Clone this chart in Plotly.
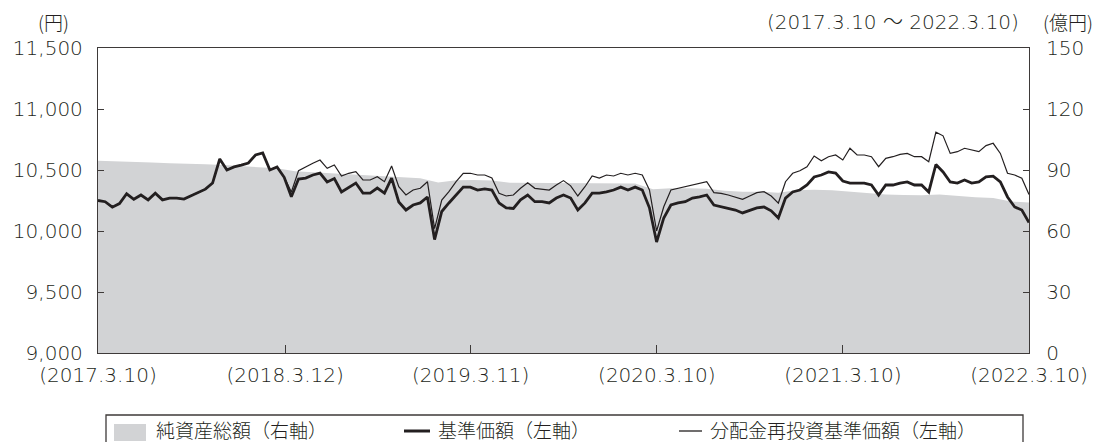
import pandas as pd
import plotly.graph_objects as go

# --- data -------------------------------------------------------------
start, end = "2017-03-10", "2022-03-10"

# 基準価額 (yen), sampled roughly every two weeks
nav = [
    10250, 10240, 10195, 10225, 10305, 10260, 10295, 10255, 10310, 10255,
    10270, 10270, 10262, 10290, 10320, 10343, 10393, 10590, 10500, 10525,
    10540, 10557, 10623, 10640, 10500, 10525, 10440, 10280, 10426, 10434,
    10459, 10475, 10402, 10430, 10320, 10360, 10393, 10311, 10311, 10352,
    10311, 10434, 10238, 10172, 10213, 10230, 10279, 9930, 10160, 10230,
    10295, 10360, 10360, 10336, 10345, 10336, 10230, 10190, 10185, 10255,
    10295, 10240, 10240, 10230, 10270, 10295, 10270, 10172, 10230, 10311,
    10311, 10320, 10336, 10360, 10336, 10360, 10336, 10190, 9910, 10107,
    10213, 10230, 10240, 10270, 10280, 10295, 10213, 10200, 10190, 10172,
    10148, 10172, 10190, 10197, 10165, 10107, 10270, 10320, 10336, 10377,
    10443, 10459, 10484, 10475, 10410, 10393, 10393, 10393, 10377, 10295,
    10377, 10377, 10393, 10402, 10377, 10377, 10320, 10545, 10484, 10402,
    10393, 10418, 10393, 10402, 10443, 10450, 10402, 10279, 10197, 10172, 10070,
]

# 分配金再投資基準価額 (yen): identical to nav until the first distribution
reinvest_after = [
    10320, 10494, 10527,
    10555, 10582, 10514, 10541, 10451, 10473, 10486, 10418, 10418, 10445,
    10404, 10533, 10363, 10295, 10336, 10350, 10404, 10020, 10254, 10322,
    10404, 10473, 10473, 10459, 10459, 10434, 10309, 10287, 10295, 10350,
    10396, 10350, 10343, 10336, 10377, 10413, 10370, 10287, 10363, 10451,
    10434, 10459, 10451, 10473, 10459, 10473, 10459, 10336, 10000, 10199,
    10336, 10350, 10363, 10377, 10396, 10404, 10314, 10309, 10295, 10276,
    10260, 10287, 10314, 10322, 10287, 10229, 10404, 10473, 10494, 10527,
    10615, 10576, 10609, 10623, 10582, 10678, 10623, 10623, 10609, 10527,
    10596, 10609, 10628, 10636, 10609, 10609, 10568, 10810, 10780, 10636,
    10650, 10678, 10664, 10650, 10700, 10719, 10636, 10473, 10459, 10432, 10300,
]
reinvest = nav[:len(nav) - len(reinvest_after)] + reinvest_after

# 純資産総額 (億円), sampled roughly monthly
net_assets = [
    94.6, 94.4, 94.0, 93.7, 93.3, 93.2, 92.8, 92.5, 92.0, 91.5,
    90.8, 89.4, 88.9, 88.4, 87.8, 87.2, 86.7, 86.3, 86.0, 83.8,
    85.0, 85.1, 84.8, 83.7, 83.6, 83.5, 83.6, 83.5, 83.4, 83.4,
    83.3, 80.5, 81.0, 81.0, 80.8, 79.8, 79.3, 79.3, 78.8, 80.0,
    80.3, 80.0, 79.3, 78.7, 78.0, 77.7, 77.6, 77.9, 77.2, 76.6,
    76.2, 74.5, 74.0,
]

nav_dates = pd.date_range(start, end, periods=len(nav))
asset_dates = pd.date_range(start, end, periods=len(net_assets))

x_tick_dates = ["2017-03-10", "2018-03-12", "2019-03-11",
                "2020-03-10", "2021-03-10", "2022-03-10"]
x_tick_text = ["(2017.3.10)", "(2018.3.12)", "(2019.3.11)",
               "(2020.3.10)", "(2021.3.10)", "(2022.3.10)"]
left_ticks = [9000, 9500, 10000, 10500, 11000, 11500]
right_ticks = [0, 30, 60, 90, 120, 150]

# --- styling ------------------------------------------------------------
INK = "#231f20"
AXIS = "#3e3a39"
GREY = "#d2d3d5"
NUM_FONT = dict(family="DejaVu Sans, Noto Sans CJK JP", size=20, color=INK, weight=300)
JP_FONT = dict(family="Noto Sans CJK JP", size=19, color=INK, weight=300)

W, H = 1105, 442
L, R, T, B = 98, 76, 48, 89
PW, PH = W - L - R, H - T - B


def px(x):
    return (x - L) / PW


def py(y):
    return (H - B - y) / PH


fig = go.Figure()

fig.add_trace(go.Scatter(
    x=asset_dates, y=net_assets, name="純資産総額（右軸）",
    mode="lines", fill="tozeroy", fillcolor=GREY,
    line=dict(width=0, color=GREY), yaxis="y", showlegend=False,
))
fig.add_trace(go.Scatter(
    x=nav_dates, y=reinvest, name="分配金再投資基準価額（左軸）",
    mode="lines", line=dict(width=1.2, color=INK), yaxis="y2",
    showlegend=False,
))
fig.add_trace(go.Scatter(
    x=nav_dates, y=nav, name="基準価額（左軸）",
    mode="lines", line=dict(width=2.8, color=INK), yaxis="y2",
    showlegend=False,
))

fig.update_layout(
    width=W, height=H, autosize=False,
    margin=dict(l=L, r=R, t=T, b=B, pad=0),
    paper_bgcolor="white", plot_bgcolor="white",
    xaxis=dict(
        type="date", range=[start, end],
        tickvals=x_tick_dates, ticktext=x_tick_text,
        ticks="inside", ticklen=8, tickwidth=1.2, tickcolor=AXIS,
        showline=True, linecolor=AXIS, linewidth=1.3, mirror=True,
        showgrid=False, zeroline=False, tickfont=NUM_FONT,
        ticklabelstandoff=4,
    ),
    yaxis=dict(
        range=[0, 150], tickvals=right_ticks, side="right",
        ticks="inside", ticklen=6, tickwidth=1.2, tickcolor=AXIS,
        showline=True, linecolor=AXIS, linewidth=1.3,
        showgrid=False, zeroline=False, tickfont=NUM_FONT,
        ticklabelstandoff=12,
    ),
    yaxis2=dict(
        range=[9000, 11500], tickvals=left_ticks, tickformat=",d",
        side="left", overlaying="y",
        ticks="inside", ticklen=6, tickwidth=1.2, tickcolor=AXIS,
        showline=True, linecolor=AXIS, linewidth=1.3,
        showgrid=False, zeroline=False, tickfont=NUM_FONT,
        ticklabelstandoff=10,
    ),
)

# unit and period captions
fig.add_annotation(text="(円)", x=px(53), y=py(22), xref="paper", yref="paper",
                   showarrow=False, font=JP_FONT, xanchor="center", yanchor="middle")
fig.add_annotation(text="(億円)", x=px(1068), y=py(22), xref="paper", yref="paper",
                   showarrow=False, font=JP_FONT, xanchor="center", yanchor="middle")
fig.add_annotation(text="(2017.3.10 ～ 2022.3.10)", x=px(1021), y=py(22),
                   xref="paper", yref="paper", showarrow=False, font=NUM_FONT,
                   xanchor="right", yanchor="middle")

# legend box along the bottom edge
fig.add_shape(type="rect", xref="paper", yref="paper",
              x0=px(106), x1=px(1023), y0=py(446), y1=py(415),
              line=dict(color=AXIS, width=1.3), fillcolor="rgba(0,0,0,0)")
fig.add_shape(type="rect", xref="paper", yref="paper",
              x0=px(114), x1=px(146), y0=py(441), y1=py(424),
              line=dict(width=0), fillcolor=GREY)
fig.add_shape(type="line", xref="paper", yref="paper",
              x0=px(404), x1=px(430), y0=py(431), y1=py(431),
              line=dict(color=INK, width=3))
fig.add_shape(type="line", xref="paper", yref="paper",
              x0=px(679), x1=px(702), y0=py(431), y1=py(431),
              line=dict(color=INK, width=1.3))
for label, left in [("純資産総額（右軸）", 154),
                    ("基準価額（左軸）", 436),
                    ("分配金再投資基準価額（左軸）", 708)]:
    fig.add_annotation(text=label, x=px(left), y=py(429.5), xref="paper", yref="paper",
                       showarrow=False, font=JP_FONT, xanchor="left", yanchor="middle")

fig.write_html("out.html")
